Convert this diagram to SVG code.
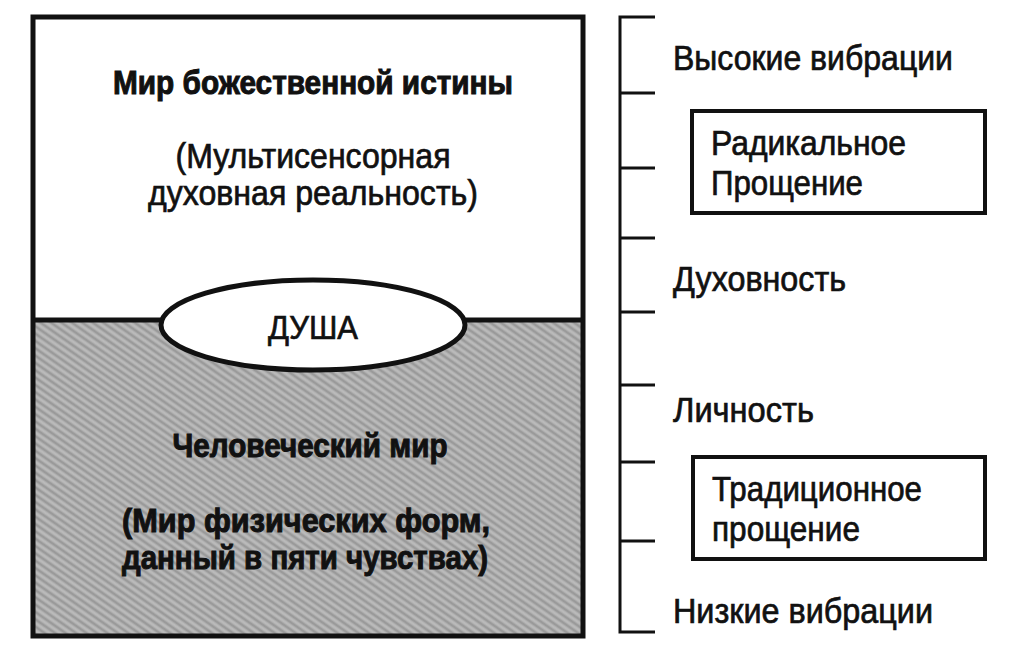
<svg xmlns="http://www.w3.org/2000/svg" width="1024" height="657" viewBox="0 0 1024 657">
<style>
.t{font-family:"Liberation Sans",Arial,sans-serif;fill:#111;stroke:#111;stroke-width:0.7;}
.b{font-weight:bold;stroke-width:1;}
.box{fill:none;stroke:#111;stroke-width:4;}
.tick{stroke:#111;stroke-width:3;fill:none;}
</style>
<defs>
<pattern id="grain" width="6" height="6" patternUnits="userSpaceOnUse" patternTransform="rotate(35)">
<rect width="6" height="6" fill="#adadad"/>
<line x1="0" y1="1" x2="6" y2="1" stroke="#8e8e8e" stroke-width="1.2"/>
<line x1="0" y1="4" x2="6" y2="4" stroke="#c8c8c8" stroke-width="1"/>
</pattern>
</defs>
<rect width="1024" height="657" fill="#fff"/>
<g id="divine-world">
<rect x="33" y="17" width="550" height="303" fill="#fff"/>
<text class="t b" x="313" y="94" font-size="33" text-anchor="middle" textLength="400" lengthAdjust="spacingAndGlyphs">Мир божественной истины</text>
<text class="t" x="313" y="168" font-size="35" text-anchor="middle" textLength="275" lengthAdjust="spacingAndGlyphs">(Мультисенсорная</text>
<text class="t" x="313" y="205" font-size="35" text-anchor="middle" textLength="330" lengthAdjust="spacingAndGlyphs">духовная реальность)</text>
</g>
<g id="human-world">
<rect x="33" y="320" width="550" height="316" fill="url(#grain)"/>
<text class="t b" x="310" y="457" font-size="33" text-anchor="middle" textLength="275" lengthAdjust="spacingAndGlyphs">Человеческий мир</text>
<text class="t b" x="306" y="532" font-size="33" text-anchor="middle" textLength="368" lengthAdjust="spacingAndGlyphs">(Мир физических форм,</text>
<text class="t b" x="305" y="569" font-size="33" text-anchor="middle" textLength="366" lengthAdjust="spacingAndGlyphs">данный в пяти чувствах)</text>
</g>
<g id="frame">
<rect x="33" y="17" width="550" height="619" fill="none" stroke="#111" stroke-width="5"/>
<line x1="33" y1="320" x2="583" y2="320" stroke="#111" stroke-width="5"/>
</g>
<g id="soul">
<ellipse cx="313" cy="325" rx="152" ry="45" fill="#fff" stroke="#111" stroke-width="5"/>
<text class="t" x="313" y="339" font-size="34" text-anchor="middle" textLength="90" lengthAdjust="spacingAndGlyphs">ДУША</text>
</g>
<g id="connectors">
<path class="tick" d="M655 17 H620 V632 H655"/>
<line class="tick" x1="620" y1="93" x2="655" y2="93"/>
<line class="tick" x1="620" y1="168" x2="655" y2="168"/>
<line class="tick" x1="620" y1="238" x2="655" y2="238"/>
<line class="tick" x1="620" y1="312" x2="655" y2="312"/>
<line class="tick" x1="620" y1="385" x2="655" y2="385"/>
<line class="tick" x1="620" y1="462" x2="655" y2="462"/>
<line class="tick" x1="620" y1="541" x2="655" y2="541"/>
</g>
<g id="high-vibrations">
<text class="t" x="673" y="70" font-size="35" textLength="280" lengthAdjust="spacingAndGlyphs">Высокие вибрации</text>
</g>
<g id="radical-forgiveness">
<rect class="box" x="692" y="111" width="293" height="102"/>
<text class="t" x="711" y="155" font-size="35" textLength="195" lengthAdjust="spacingAndGlyphs">Радикальное</text>
<text class="t" x="711" y="195" font-size="35" textLength="152" lengthAdjust="spacingAndGlyphs">Прощение</text>
</g>
<g id="spirituality">
<text class="t" x="673" y="291" font-size="35" textLength="173" lengthAdjust="spacingAndGlyphs">Духовность</text>
</g>
<g id="personality">
<text class="t" x="673" y="422" font-size="35" textLength="141" lengthAdjust="spacingAndGlyphs">Личность</text>
</g>
<g id="traditional-forgiveness">
<rect class="box" x="693" y="457" width="292" height="102"/>
<text class="t" x="712" y="501" font-size="35" textLength="210" lengthAdjust="spacingAndGlyphs">Традиционное</text>
<text class="t" x="712" y="541" font-size="35" textLength="148" lengthAdjust="spacingAndGlyphs">прощение</text>
</g>
<g id="low-vibrations">
<text class="t" x="673" y="623" font-size="35" textLength="260" lengthAdjust="spacingAndGlyphs">Низкие вибрации</text>
</g>
</svg>
